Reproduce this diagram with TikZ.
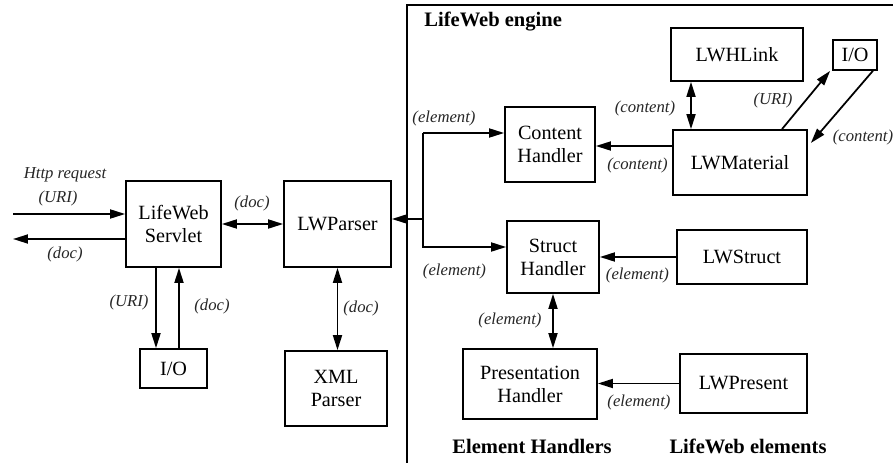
\documentclass[tikz,border=0pt]{standalone}
\usepackage{fontspec}
\setmainfont{Liberation Serif}
\usepackage{tikz}
\usetikzlibrary{arrows.meta, positioning, calc}

\tikzset{
    block/.style={draw, line width=1pt, inner sep=0pt, align=center, font=\fontsize{11.5}{13}\selectfont},
    lbl/.style={inner sep=1pt, font=\itshape\fontsize{9.5}{11}\selectfont, text=black!85},
    title/.style={inner sep=0pt, font=\bfseries\fontsize{11.7}{13}\selectfont},
    arr/.style={line width=1pt, -{Triangle[length=3mm, width=1.8mm]}},
    darr/.style={line width=1pt, {Triangle[length=3mm, width=1.8mm]}-{Triangle[length=3mm, width=1.8mm]}}
}

\begin{document}
\begin{tikzpicture}[x=0.02cm, y=-0.02cm]
    \useasboundingbox (0,0) rectangle (893,463);

    % engine frame
    \draw[line width=1pt] (407,463) -- (407,5) -- (893,5);
    \node[title, anchor=west] (engine) at (424,22) {LifeWeb engine};

    % servlet side
    \node[block, minimum width=1.9cm, minimum height=1.72cm] (servlet) at (173.5,224) {LifeWeb\\Servlet};
    \node[block, minimum width=2.14cm, minimum height=1.72cm] (parser) at (337.5,224) {LWParser};
    \node[block, minimum width=1.34cm, minimum height=0.78cm] (io) at (173.5,368.5) {I/O};
    \node[block, minimum width=2.04cm, minimum height=1.5cm] (xml) at (336,388.5) {XML\\Parser};

    % handlers
    \node[block, minimum width=1.8cm, minimum height=1.5cm] (content) at (550,144.5) {Content\\Handler};
    \node[block, minimum width=1.84cm, minimum height=1.44cm] (struct) at (553,257) {Struct\\Handler};
    \node[block, minimum width=2.68cm, minimum height=1.4cm] (present) at (530,384) {Presentation\\Handler};

    % elements
    \node[block, minimum width=2.64cm, minimum height=1.06cm] (hlink) at (737,54.5) {LWHLink};
    \node[block, minimum width=0.88cm, minimum height=0.6cm] (ioright) at (855,55) {I/O};
    \node[block, minimum width=2.68cm, minimum height=1.3cm] (material) at (740,162.5) {LWMaterial};
    \node[block, minimum width=2.6cm, minimum height=1.08cm] (lwstruct) at (742,257) {LWStruct};
    \node[block, minimum width=2.54cm, minimum height=1.18cm] (lwpresent) at (743.5,383.5) {LWPresent};

    \node[title] (handlers) at (532,446) {Element Handlers};
    \node[title] (elements) at (748,446) {LifeWeb elements};

    % request / response
    \coordinate (httpin) at (13,214);
    \coordinate (docout) at (13,239);
    \draw[arr] (httpin) -- (httpin -| servlet.west);
    \draw[arr] (docout -| servlet.west) -- (docout);
    \node[lbl] (httplbl) at (65,175) {Http request};
    \node[lbl] (urilbl) at (58,198) {(URI)};
    \node[lbl] (doclbl) at (65,254) {(doc)};

    \draw[darr] (servlet.east) -- (parser.west);
    \node[lbl] (doclbl2) at (252,203) {(doc)};

    \draw[arr] ([xshift=-0.35cm]servlet.south) -- ([xshift=-0.35cm]io.north);
    \draw[arr] ([xshift=0.11cm]io.north) -- ([xshift=0.11cm]servlet.south);
    \node[lbl] (urilbl2) at (129,302) {(URI)};
    \node[lbl] (doclbl3) at (212,306) {(doc)};

    \draw[darr] (parser.south) -- (parser.south |- xml.north);
    \node[lbl] (doclbl4) at (361,308) {(doc)};

    % element bus
    \coordinate (bus) at (423,219);
    \coordinate (bustop) at (423,133);
    \coordinate (busbot) at (423,247);
    \draw[arr] (bus) -- (bus -| parser.east);
    \draw[arr] (bustop) -- (busbot) -- (busbot -| struct.west);
    \draw[arr] (bustop) -- (bustop -| content.west);
    \node[lbl] (ellbl) at (444,118) {(element)};
    \node[lbl] (ellbl2) at (454.5,271) {(element)};

    % content side
    \draw[arr] ([yshift=0.33cm]material.west) -- ([yshift=0.33cm]material.west -| content.east);
    \node[lbl] (conlbl) at (637.5,165) {(content)};
    \draw[darr] ([xshift=-0.92cm]hlink.south) -- ([xshift=-0.92cm]hlink.south |- material.north);
    \node[lbl] (conlbl2) at (645,108) {(content)};
    \draw[arr] ([xshift=0.84cm]material.north) -- ([xshift=-0.04cm]ioright.south west);
    \node[lbl] (urilbl3) at (773,100) {(URI)};
    \draw[arr] ([xshift=-0.1cm]ioright.south east) -- ([xshift=0.06cm, yshift=0.39cm]material.east);
    \node[lbl] (conlbl3) at (863,137) {(content)};

    % struct and presentation
    \draw[arr] (lwstruct.west) -- (lwstruct.west -| struct.east);
    \node[lbl] (ellbl3) at (637.5,275) {(element)};
    \draw[darr] (struct.south) -- (struct.south |- present.north);
    \node[lbl] (ellbl4) at (510,320) {(element)};
    \draw[arr] (lwpresent.west) -- (lwpresent.west -| present.east);
    \node[lbl] (ellbl5) at (639,402) {(element)};
\end{tikzpicture}
\end{document}
